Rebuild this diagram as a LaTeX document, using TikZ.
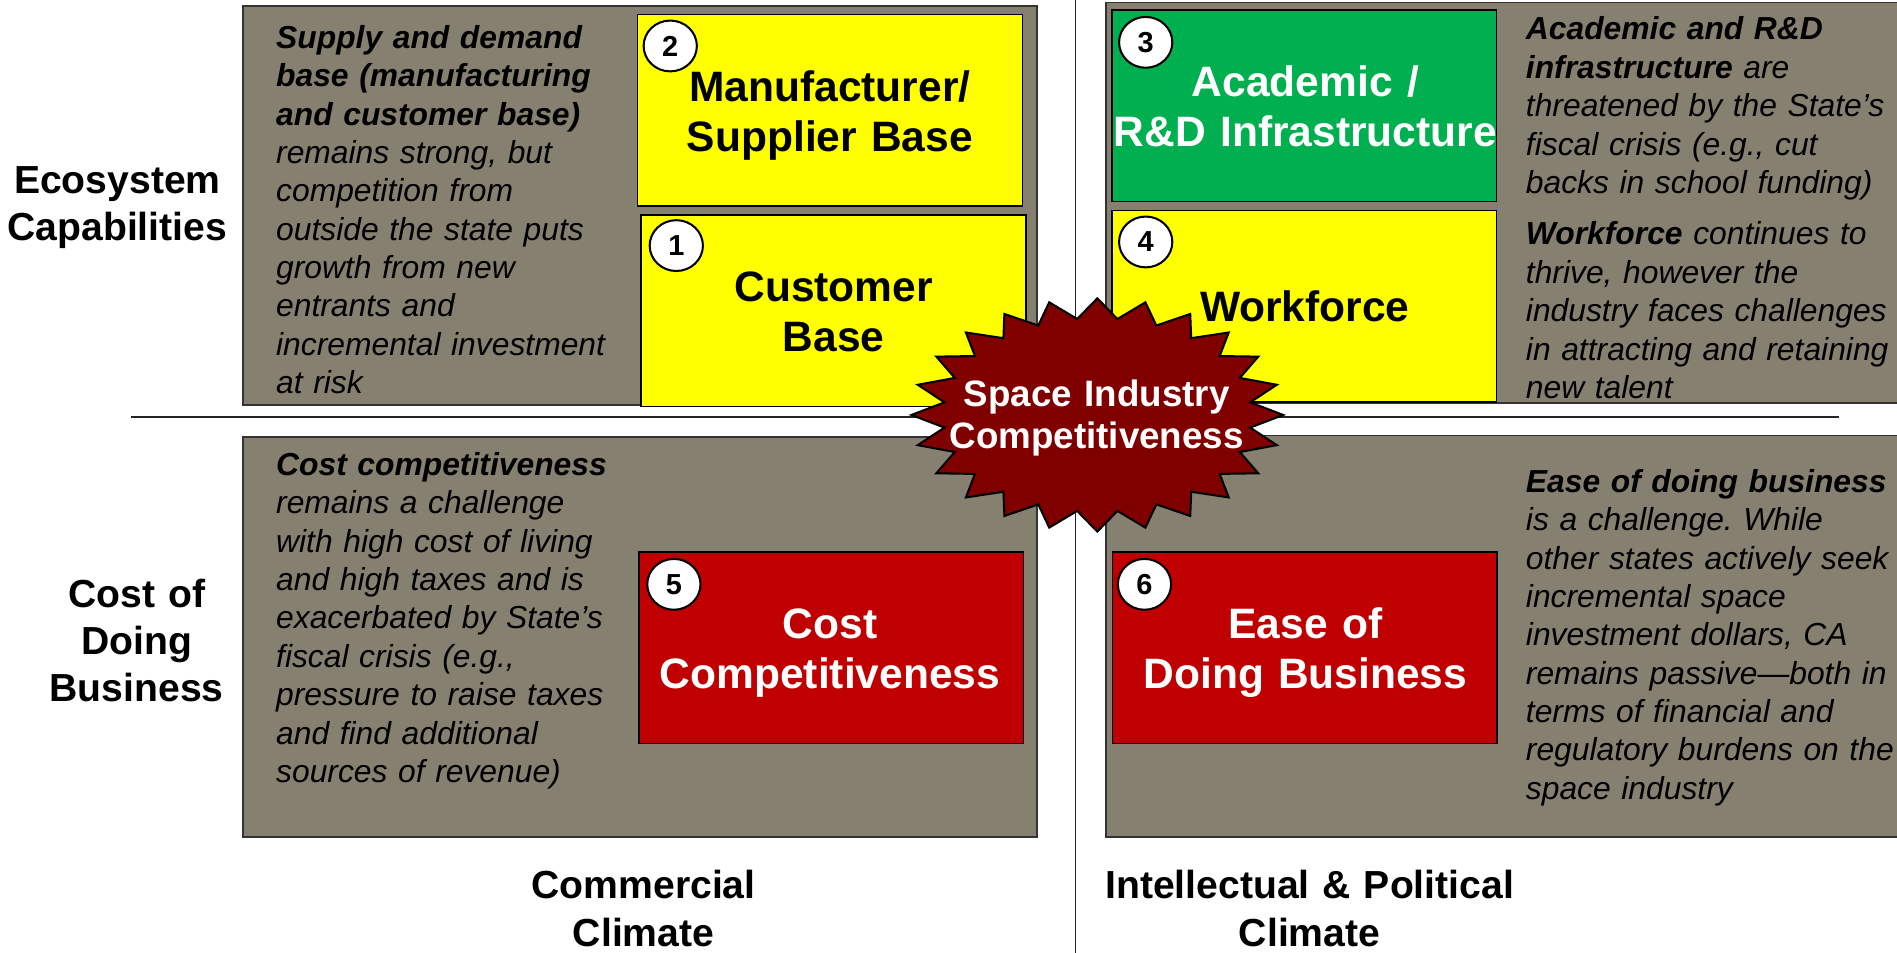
\documentclass[tikz,border=0pt]{standalone}
\usepackage{fontspec}
\setmainfont{Liberation Sans}
\usetikzlibrary{shapes.geometric}
\definecolor{panelGrey}{RGB}{134,128,113}
\definecolor{tileYellow}{RGB}{255,255,0}
\definecolor{tileGreen}{RGB}{0,176,80}
\definecolor{tileRed}{RGB}{192,0,0}
\definecolor{burstRed}{RGB}{128,0,0}
\frenchspacing

\begin{document}
\begin{tikzpicture}[x=0.025cm, y=-0.025cm,
    panel/.style={draw=black!80, line width=1pt, fill=panelGrey},
    tile/.style={draw=black, line width=1pt, minimum width=7.95cm, minimum height=3.95cm, inner sep=0pt},
    tilelabel/.style={anchor=base, text width=9.5cm, align=center, inner sep=0pt,
        font=\fontsize{25}{29.5}\selectfont\bfseries},
    badge/.style={ellipse, draw=black, line width=1.2pt, fill=white, minimum width=1.1cm,
        minimum height=1.05cm, inner sep=0pt, font=\fontsize{17}{18}\selectfont\bfseries},
    note/.style={anchor=base west, text width=8cm, align=left, inner sep=0pt,
        font=\fontsize{18.7}{22.55}\selectfont\itshape},
    axislabel/.style={anchor=base, text width=9cm, align=center, inner sep=0pt,
        font=\fontsize{23}{27.7}\selectfont\bfseries},
    divider/.style={draw=black!85, line width=1pt},
    burst/.style={draw=black, line width=1.2pt, fill=burstRed, line join=miter},
    hubtext/.style={anchor=base, text width=8cm, align=center, inner sep=0pt, text=white,
        font=\fontsize{21.6}{24.9}\selectfont\bfseries},
]
\useasboundingbox (0,0) rectangle (1568,787);

% quadrant backgrounds
\draw[panel] (201,5) rectangle (857,335);
\draw[panel] (914,2) rectangle (1590,333);
\draw[panel] (201,361) rectangle (857,692);
\draw[panel] (914,360) rectangle (1590,692);

% axes
\coordinate (vtop) at (889,-5);
\coordinate (vbot) at (889,795);
\coordinate (hleft) at (108,344.5);
\coordinate (hright) at (1520,344.5);
\draw[divider] (vtop) -- (vbot);
\draw[divider] (hleft) -- (hright);

% capability tiles
\node[tile, fill=tileYellow] (supplier) at (686,91) {};
\node[tile, fill=tileYellow] (customer) at (689,257) {};
\node[tile, fill=tileGreen] (academic) at (1078,87.5) {};
\node[tile, fill=tileYellow] (workforce) at (1078,253) {};
\node[tile, fill=tileRed] (cost) at (687,535.5) {};
\node[tile, fill=tileRed] (ease) at (1078.5,535.5) {};

\node[tilelabel] (supplier-txt) at (686,84) {Manufacturer/\\Supplier Base};
\node[tilelabel] (customer-txt) at (689,249) {Customer\\Base};
\node[tilelabel, text=white] (academic-txt) at (1079,80) {Academic /\\R\&D Infrastructure};
\node[tilelabel] (workforce-txt) at (1078.5,266) {Workforce};
\node[tilelabel, text=white] (cost-txt) at (686,528) {Cost\\Competitiveness};
\node[tilelabel, text=white] (ease-txt) at (1079,528) {Ease of\\Doing Business};

\node[badge] (n2) at (554,38) {2};
\node[badge] (n1) at (559,203) {1};
\node[badge] (n3) at (947,35) {3};
\node[badge] (n4) at (947,200) {4};
\node[badge] (n5) at (557,483) {5};
\node[badge] (n6) at (946,483) {6};

% commentary
\node[note] (supply-note) at (228,40) {{\bfseries Supply and demand\\base (manufacturing\\and customer base)}\\remains strong, but\\competition from\\outside the state puts\\growth from new\\entrants and\\incremental investment\\at risk};
\node[note] (acad-note) at (1261,33) {{\bfseries Academic and R\&D\\infrastructure} are\\threatened by the State’s\\fiscal crisis (e.g., cut\\backs in school funding)};
\node[note] (work-note) at (1261,202.5) {{\bfseries Workforce} continues to\\thrive, however the\\industry faces challenges\\in attracting and retaining\\new talent};
\node[note] (cost-note) at (228,393) {{\bfseries Cost competitiveness}\\remains a challenge\\with high cost of living\\and high taxes and is\\exacerbated by State’s\\fiscal crisis (e.g.,\\pressure to raise taxes\\and find additional\\sources of revenue)};
\node[note] (ease-note) at (1261,407) {{\bfseries Ease of doing business}\\is a challenge. While\\other states actively seek\\incremental space\\investment dollars, CA\\remains passive---both in\\terms of financial and\\regulatory burdens on the\\space industry};

% axis titles
\node[axislabel] (eco) at (97,160) {Ecosystem\\Capabilities};
\node[axislabel] (cdb) at (113,502) {Cost of\\Doing\\Business};
\node[axislabel] (comm) at (532,743) {Commercial\\Climate};
\node[axislabel] (intel) at (1082.5,743) {Intellectual \& Political\\Climate};

% centre burst
\coordinate (hub) at (907,343);
\draw[burst, shift={(hub)}] (153.6,0)
  \foreach \k [evaluate=\k as \fac using {1-0.17*mod(\k,2)}] in {1,...,47} {
    -- ({\fac*153.6*cos(\k*7.5)},{\fac*96.4*sin(\k*7.5)}) } -- cycle;
\node[hubtext] (core) at (906.5,335.6) {Space Industry\\Competitiveness};
\end{tikzpicture}
\end{document}
